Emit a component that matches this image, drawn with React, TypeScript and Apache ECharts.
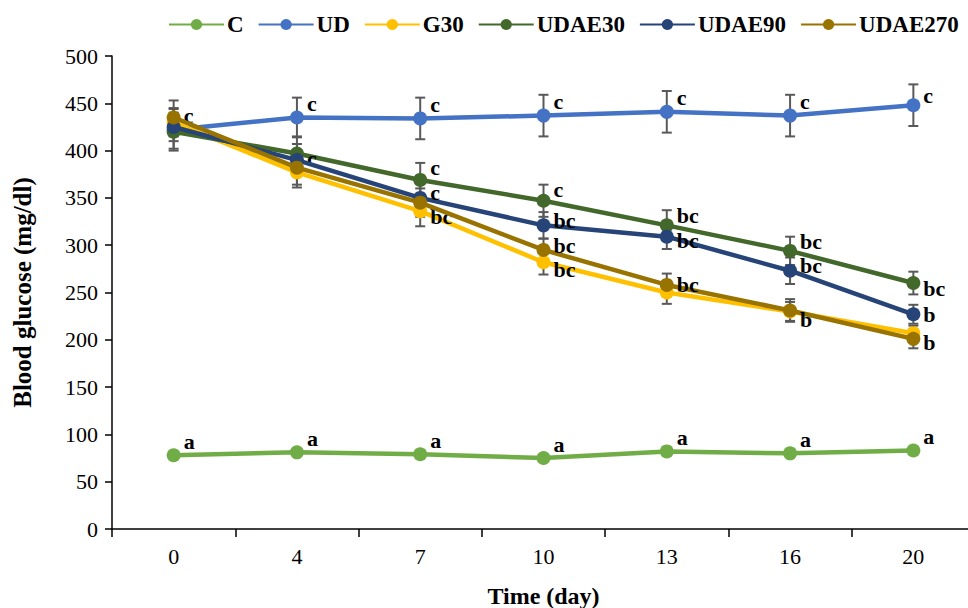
import React, { useEffect, useRef } from "react";
import * as echarts from "echarts";

const days = ["0", "4", "7", "10", "13", "16", "20"];
const yTicks = [0, 50, 100, 150, 200, 250, 300, 350, 400, 450, 500];

const C = [78, 81, 79, 75, 82, 80, 83];
const UD = [422, 435, 434, 437, 441, 437, 448];
const G30 = [430, 377, 336, 282, 250, 230, 207];
const UDAE30 = [420, 397, 369, 347, 321, 294, 260];
const UDAE90 = [425, 390, 350, 321, 309, 273, 227];
const UDAE270 = [435, 382, 345, 295, 258, 231, 201];

const errC = [3, 3, 3, 3, 3, 3, 3];
const errUD = [22, 21, 22, 22, 22, 22, 22];
const errG30 = [15, 16, 16, 13, 12, 10, 8];
const errUDAE30 = [18, 18, 18, 17, 16, 15, 12];
const errUDAE90 = [15, 17, 15, 14, 13, 14, 10];
const errUDAE270 = [18, 18, 15, 12, 12, 12, 10];

const lblC = ["a", "a", "a", "a", "a", "a", "a"];
const lblUD = ["c", "c", "c", "c", "c", "c", "c"];
const lblG30 = ["", "", "bc", "bc", "", "", ""];
const lblUDAE30 = ["", "c", "c", "c", "bc", "bc", "bc"];
const lblUDAE90 = ["", "", "c", "bc", "bc", "bc", "b"];
const lblUDAE270 = ["", "", "", "bc", "bc", "b", "b"];

// label vertical offsets (style)
const dyC = [-14, -14, -14, -14, -14, -14, -14];
const dyUD = [-14, -14, -14, -14, -14, -14, -10];
const dyG30 = [0, 0, 5, 7, 0, 0, 0];
const dyUDAE30 = [0, 5, -12, -11, -10, -9, 5];
const dyUDAE90 = [0, 0, -5, -5, 4, -5, 0];
const dyUDAE270 = [0, 0, 0, -4, 0, 9, 4];

const groups = [
  { name: "C", color: "#70AD47", vals: C, err: errC, lbl: lblC, dy: dyC },
  { name: "UD", color: "#4472C4", vals: UD, err: errUD, lbl: lblUD, dy: dyUD },
  { name: "G30", color: "#FFC000", vals: G30, err: errG30, lbl: lblG30, dy: dyG30 },
  { name: "UDAE30", color: "#43682B", vals: UDAE30, err: errUDAE30, lbl: lblUDAE30, dy: dyUDAE30 },
  { name: "UDAE90", color: "#264478", vals: UDAE90, err: errUDAE90, lbl: lblUDAE90, dy: dyUDAE90 },
  { name: "UDAE270", color: "#997300", vals: UDAE270, err: errUDAE270, lbl: lblUDAE270, dy: dyUDAE270 },
];

const FONT = "'Liberation Serif', 'Times New Roman', serif";

export default function App() {
  const ref = useRef<HTMLDivElement>(null);
  useEffect(() => {
    if (!ref.current) return;
    const chart = echarts.init(ref.current, undefined, { renderer: "svg" });
    const series: any[] = [];
    groups.forEach((g) => {
      series.push({
        type: "custom",
        name: g.name + "_err",
        z: 1,
        silent: true,
        data: g.vals.map((v, i) => [i, v - g.err[i], v + g.err[i]]),
        renderItem: (params: any, api: any) => {
          const lo = api.coord([api.value(0), api.value(1)]);
          const hi = api.coord([api.value(0), api.value(2)]);
          const w = 5;
          const st = { stroke: "#595959", lineWidth: 2 };
          return {
            type: "group",
            children: [
              { type: "line", shape: { x1: lo[0], y1: lo[1], x2: hi[0], y2: hi[1] }, style: st },
              { type: "line", shape: { x1: lo[0] - w, y1: lo[1], x2: lo[0] + w, y2: lo[1] }, style: st },
              { type: "line", shape: { x1: hi[0] - w, y1: hi[1], x2: hi[0] + w, y2: hi[1] }, style: st },
            ],
          };
        },
      });
    });
    groups.forEach((g, gi) => {
      series.push({
        type: "line",
        name: g.name,
        z: 3 + gi,
        symbol: "circle",
        symbolSize: 14,
        lineStyle: { color: g.color, width: 4.5 },
        itemStyle: { color: g.color },
        data: g.vals.map((v, i) => ({
          value: v,
          label: {
            show: !!g.lbl[i],
            formatter: g.lbl[i],
            position: "right",
            distance: 3,
            offset: [0, g.dy[i]],
            color: "#000",
            fontFamily: FONT,
            fontWeight: "bold",
            fontSize: 22,
            lineHeight: 18,
          },
        })),
      });
    });
    chart.setOption({
      animation: false,
      backgroundColor: "#fff",
      legend: {
        top: 8,
        left: 163,
        itemWidth: 55,
        itemHeight: 14,
        itemGap: 14,
        data: groups.map((g) => g.name),
        textStyle: { fontFamily: FONT, fontWeight: "bold", fontSize: 23, color: "#000", padding: [0, 0, 0, -2] },
      },
      grid: { left: 112, right: -7, top: 56, bottom: 79, containLabel: false, outerBoundsMode: "none" },
      xAxis: {
        type: "category",
        data: days,
        boundaryGap: true,
        name: "Time (day)",
        nameLocation: "middle",
        nameGap: 55,
        nameTextStyle: { fontFamily: FONT, fontWeight: "bold", fontSize: 24, color: "#000" },
        axisLine: { lineStyle: { color: "#000", width: 1.5 } },
        axisTick: { show: true, length: 8, lineStyle: { color: "#000", width: 1.5 } },
        axisLabel: { fontFamily: FONT, fontSize: 22, color: "#000", margin: 16 },
        splitLine: { show: false },
      },
      yAxis: {
        type: "value",
        min: yTicks[0],
        max: yTicks[yTicks.length - 1],
        interval: 50,
        name: "Blood glucose (mg/dl)",
        nameLocation: "middle",
        nameGap: 77,
        nameTextStyle: { fontFamily: FONT, fontWeight: "bold", fontSize: 25, color: "#000" },
        axisLine: { show: true, lineStyle: { color: "#000", width: 1.5 } },
        axisTick: { show: true, length: 7, lineStyle: { color: "#000", width: 1.5 } },
        axisLabel: { fontFamily: FONT, fontSize: 22, color: "#000", margin: 14 },
        splitLine: { show: false },
      },
      series,
    });
    return () => chart.dispose();
  }, []);
  return (
    <div
      ref={ref}
      style={{ position: "fixed", left: 0, top: 0, width: 968, height: 608, overflow: "hidden", background: "#fff" }}
    />
  );
}
